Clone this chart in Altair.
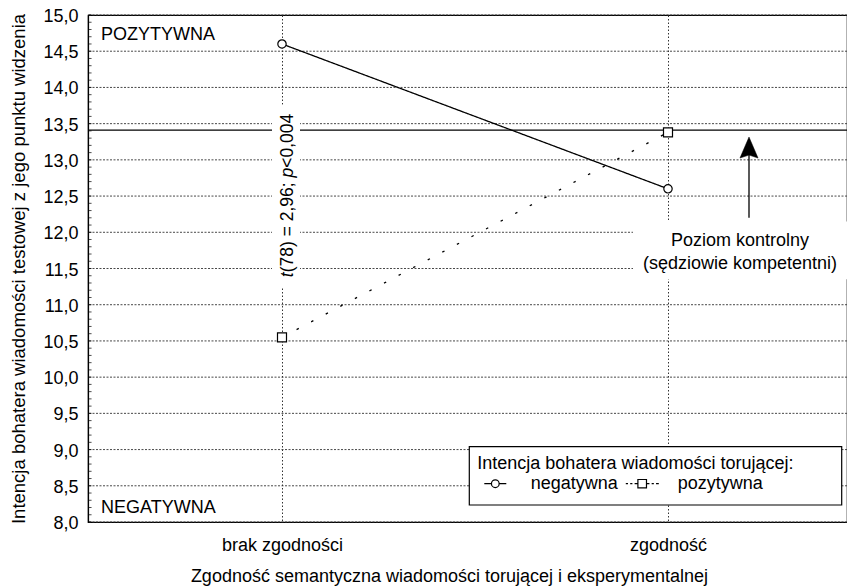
import altair as alt
import pandas as pd

# ---- data ----
categories = ["brak zgodności", "zgodność"]
series = ["negatywna", "pozytywna"]
negatywna = [14.6, 12.6]
pozytywna = [10.55, 13.38]
control_level = [13.41]
y_ticks = [8.0, 8.5, 9.0, 9.5, 10.0, 10.5, 11.0, 11.5, 12.0, 12.5,
           13.0, 13.5, 14.0, 14.5, 15.0]
minor_ticks = [round(8.0 + i * 0.1, 1) for i in range(71)]
zone_labels = ["POZYTYWNA", "NEGATYWNA"]
zone_values = [14.72, 8.19]
stat_parts = ["t", "(78) = 2,96; ", "p", "<0,004"]
stat_italic = [True, False, True, False]
control_note = ["Poziom kontrolny", "(sędziowie kompetentni)"]
control_note_values = [11.886, 11.56]

FONT = "Liberation Sans"

df = pd.DataFrame({
    "kat": categories * 2,
    "seria": [series[0]] * 2 + [series[1]] * 2,
    "wart": negatywna + pozytywna,
})

xscale = alt.Scale(type="point", domain=categories, range=[194, 580], padding=0)
yscale = alt.Scale(domain=[8, 15], nice=False, zero=False)

x_axis = alt.Axis(
    title="Zgodność semantyczna wiadomości torującej i eksperymentalnej",
    grid=True, gridDash=[1.5, 2], gridColor="#333", gridWidth=1,
    ticks=False, tickSize=0, labelAngle=0, labelPadding=14,
    labelFontSize=18, labelColor="black", labelFont=FONT,
    titleFontSize=18, titleFontWeight="normal", titleColor="black",
    titleFont=FONT, titlePadding=13, titleX=361,
    domainColor="black", domainWidth=1.2,
)
y_axis = alt.Axis(
    title="Intencja bohatera wiadomości testowej z jego punktu widzenia",
    values=y_ticks, tickCount=40, labelOverlap=False,
    labelExpr="replace(format(datum.value, '.1f'), '.', ',')",
    grid=False, ticks=False, tickSize=0, labelPadding=10,
    labelBaseline="alphabetic", labelOffset=6.5,
    labelFontSize=18, labelColor="black", labelFont=FONT,
    titleFontSize=18.5, titleFontWeight="normal", titleColor="black",
    titleFont=FONT, titlePadding=14,
    domainColor="black", domainWidth=1.2,
)

X = alt.X("kat:N", scale=xscale, axis=x_axis, sort=categories)
Y = alt.Y("wart:Q", scale=yscale, axis=y_axis)

# horizontal dotted grid across the full plot width
grid = alt.Chart(pd.DataFrame({"wart": y_ticks})).mark_rule(
    color="#333", strokeDash=[2, 1.5], strokeWidth=0.9
).encode(y=Y)

# small inward minor ticks along the left axis
minor = alt.Chart(pd.DataFrame({"wart": minor_ticks})).mark_tick(
    orient="horizontal", size=3.5, thickness=1, color="black"
).encode(y=Y, x=alt.value(1.8))

base = alt.Chart(df)

lines = base.mark_line(color="black", strokeWidth=1.3).encode(
    x=X, y=Y,
    strokeDash=alt.StrokeDash("seria:N", scale=alt.Scale(domain=series, range=[[1, 0], [2.5, 14]]), legend=None),
    detail="seria:N",
)

points = base.mark_point(filled=True, fill="white", stroke="black", strokeWidth=1.2, opacity=1).encode(
    x=X, y=Y,
    shape=alt.Shape("seria:N", scale=alt.Scale(domain=series, range=["circle", "square"]), legend=None),
    size=alt.Size("seria:N", scale=alt.Scale(domain=series, range=[70, 81]), legend=None),
)

neg_sym = ("M-1,0L-0.35,0M0.35,0L1,0"
           "M0.35,0A0.35,0.35,0,1,1,-0.35,0A0.35,0.35,0,1,1,0.35,0Z")
pos_sym = ("M-1.5,0L-1.3,0M-1.1,0L-0.9,0M-0.7,0L-0.4,0"
           "M-0.4,-0.38L0.38,-0.38L0.38,0.38L-0.4,0.38Z"
           "M0.38,0L0.65,0M0.85,0L1.05,0M1.25,0L1.5,0")

legend_frame = alt.Chart().mark_rect(
    fill="white", stroke="black", strokeWidth=1.2
).encode(x=alt.value(381.3), x2=alt.value(753.7), y=alt.value(431.7), y2=alt.value(490))

legend_layer = base.mark_point(opacity=0).encode(
    x=X, y=Y,
    shape=alt.Shape(
        "seria:N",
        scale=alt.Scale(domain=series, range=[neg_sym, pos_sym]),
        legend=alt.Legend(
            title="Intencja bohatera wiadomości torującej:",
            orient="none", legendX=381.3, legendY=431.7, direction="horizontal",
            titleFont=FONT, titleFontSize=18, titleFontWeight="normal",
            titleColor="black", titleLimit=800, titlePadding=-1,
            labelFont=FONT, labelFontSize=18, labelColor="black",
            labelOffset=23.5, columnPadding=5,
            symbolSize=484, symbolStrokeWidth=1.2, symbolStrokeColor="black",
            symbolFillColor="white", symbolOffset=6, symbolOpacity=1,
            padding=8,
        ),
    ),
)

Xn = lambda v: alt.X(datum=v, scale=xscale, axis=x_axis)
Yn = lambda v: alt.Y(datum=v, scale=yscale, axis=y_axis)

control = alt.Chart(pd.DataFrame({"wart": control_level})).mark_rule(
    color="black", strokeWidth=1.4
).encode(y=Y)

mask1 = alt.Chart().mark_rect(color="white", width=28, xOffset=4).encode(
    x=Xn(categories[0]), y=Yn(13.76), y2=alt.Y2(datum=11.24))
mask2 = alt.Chart().mark_rect(color="white", width=215, xOffset=72.5).encode(
    x=Xn(categories[1]), y=Yn(12.15), y2=alt.Y2(datum=11.35))

zones = alt.Chart(pd.DataFrame({"t": zone_labels, "wart": zone_values})).mark_text(
    align="left", baseline="middle", font=FONT, fontSize=18, color="black"
).encode(x=alt.value(13), y=Y, text="t:N")

note = alt.Chart(pd.DataFrame({"t": control_note, "wart": control_note_values})).mark_text(
    align="center", baseline="middle", font=FONT, fontSize=18, color="black", xOffset=72
).encode(x=Xn(categories[1]), y=Y, text="t:N")

arrow_line = alt.Chart().mark_rule(color="black", strokeWidth=1.3, xOffset=81).encode(
    x=Xn(categories[1]), y=Yn(12.20), y2=alt.Y2(datum=13.10))
arrow_head = alt.Chart().mark_point(
    shape="M0,-1L0.86,1L0,0.72L-0.86,1Z", size=441, filled=True, fill="black",
    stroke="black", strokeWidth=0.5, opacity=1, xOffset=81
).encode(x=Xn(categories[1]), y=Yn(13.17))

# rotated statistic with italic t and p
widths = [4.9, 94.9, 9.7, 54.0]
stat_layers = []
off = 0.0
for part, ital, w in zip(stat_parts, stat_italic, widths):
    stat_layers.append(
        alt.Chart(pd.DataFrame({"t": [part]})).mark_text(
            angle=270, align="left", baseline="alphabetic", font=FONT,
            fontSize=17.5, color="black", xOffset=10.5, dx=off,
            fontStyle="italic" if ital else "normal",
        ).encode(x=Xn(categories[0]), y=Yn(11.38), text="t:N")
    )
    off += w

chart = alt.layer(
    grid, minor, lines, control, mask1, mask2, zones, note, arrow_line, arrow_head,
    *stat_layers, points, legend_frame, legend_layer,
).resolve_scale(shape="independent").properties(
    width=759, height=507,
    autosize=alt.AutoSizeParams(type="none"),
    padding={"left": 80, "top": 7, "right": 0, "bottom": 80},
).configure(font=FONT).configure_view(stroke="black", strokeWidth=1.2)

chart.save("out.html", embed_options={"renderer": "svg", "actions": False})
